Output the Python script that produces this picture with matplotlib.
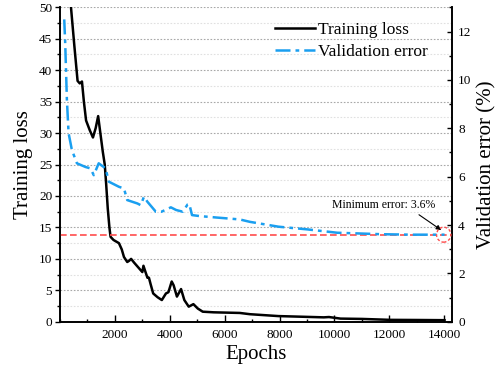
import matplotlib.pyplot as plt
from matplotlib.patches import Ellipse
from matplotlib.ticker import MultipleLocator

plt.rcParams['font.family'] = ['Liberation Serif', 'DejaVu Serif']

# training loss (left axis)
loss_epochs = [400, 520, 640, 720, 800, 870, 950, 1080, 1200, 1300, 1390, 1470, 1560, 1630,
               1680, 1740, 1800, 1842, 1950, 2147, 2250, 2330, 2450, 2520, 2590, 2700, 2880,
               3000, 3040, 3100, 3185, 3240, 3300, 3395, 3555, 3710, 3860, 3950, 4070, 4140,
               4260, 4410, 4530, 4690, 4860, 5020, 5200, 5600, 6550, 6920, 7960, 8800, 9610,
               9800, 10220, 11000, 12050, 13000, 14010]
loss_values = [50.0, 44.0, 38.3, 37.9, 38.2, 35.0, 32.0, 30.5, 29.3, 30.8, 32.7, 30.0, 27.0, 25.0,
               22.0, 18.0, 15.0, 13.5, 13.0, 12.5, 11.5, 10.3, 9.5, 9.7, 10.0, 9.4, 8.5,
               7.9, 8.9, 8.1, 7.0, 7.0, 6.0, 4.5, 3.9, 3.45, 4.5, 4.7, 6.4, 5.8,
               4.0, 5.2, 3.45, 2.4, 2.8, 2.1, 1.6, 1.5, 1.4, 1.2, 0.9, 0.8, 0.7,
               0.75, 0.5, 0.45, 0.3, 0.28, 0.25]

# validation error (right axis)
val_epochs = [154, 190, 250, 312, 433, 617, 925, 1110, 1230, 1410, 1660, 1780, 2147, 2330,
              2450, 2820, 2940, 3060, 3185, 3490, 3700, 4040, 4230, 4470, 4650, 4710, 4810,
              5080, 5690, 6550, 6920, 7960, 9000, 10100, 11690, 12800, 14010]
val_values = [12.5, 11.5, 9.2, 7.8, 7.1, 6.55, 6.4, 6.34, 6.06, 6.55, 6.34, 5.79, 5.58, 5.51,
              5.03, 4.89, 4.82, 5.17, 4.96, 4.55, 4.55, 4.73, 4.62, 4.55, 4.85, 4.87, 4.41,
              4.37, 4.31, 4.23, 4.13, 3.93, 3.82, 3.68, 3.62, 3.6, 3.6]

min_error = 3.6
min_epoch = 13980

fig, ax = plt.subplots(figsize=(4.98, 3.75), dpi=100)
fig.subplots_adjust(left=0.1205, right=0.9086, bottom=0.142, top=0.9805)
ax2 = ax.twinx()

ax.set_axisbelow(True)
ax.yaxis.set_major_locator(MultipleLocator(5))
ax.yaxis.set_minor_locator(MultipleLocator(2.5))
ax.grid(True, which='major', axis='y', color='#a8a8a8', linestyle=(0, (1.5, 1.5)), linewidth=0.8)
ax.grid(True, which='minor', axis='y', color='#e0e0e0', linestyle=(0, (1.5, 1.5)), linewidth=0.8)

l1, = ax.plot(loss_epochs, loss_values, color='black', linewidth=1.8, label='Training loss')
l2, = ax2.plot(val_epochs, val_values, color='#1a9ff0', linewidth=1.8,
               linestyle=(0, (6, 2, 1.5, 2)), label='Validation error')
ax2.axhline(min_error, color='#ff4d4d', linewidth=1.2, linestyle=(0, (4, 2)), zorder=1)
ax2.add_patch(Ellipse((min_epoch, min_error), 520, 0.62, fill=False, edgecolor='#ff4d4d',
                      linestyle=(0, (2, 1.5)), linewidth=1.0, zorder=5))
ax2.annotate('Minimum error: 3.6%', xy=(13890, 3.79), xytext=(11800, 4.82),
             ha='center', va='center', fontsize=8.5,
             arrowprops=dict(arrowstyle='-|>', color='black', lw=0.8, mutation_scale=7,
                             relpos=(0.79, 0), shrinkA=1, shrinkB=0))

ax.set_xlim(0, 14300)
ax.set_ylim(0, 50)
ax2.set_ylim(0, 13)
ax.xaxis.set_minor_locator(MultipleLocator(1000))
ax.set_xticks([2000, 4000, 6000, 8000, 10000, 12000, 14000])
ax2.yaxis.set_major_locator(MultipleLocator(2))
ax2.yaxis.set_minor_locator(MultipleLocator(1))

for a in (ax, ax2):
    a.tick_params(which='both', labelsize=9.5, width=1)
    a.spines['top'].set_visible(False)
    for s in a.spines.values():
        s.set_linewidth(1.2)

# left ticks point out, bottom and right ticks point in
ax.tick_params(axis='y', which='major', direction='out', length=3.6, pad=2)
ax.tick_params(axis='y', which='minor', direction='out', length=2.5)
ax.tick_params(axis='x', which='major', direction='in', length=5, pad=5)
ax.tick_params(axis='x', which='minor', direction='in', length=2.5)
ax2.tick_params(axis='y', which='major', direction='in', length=3.5, pad=4)
ax2.tick_params(axis='y', which='minor', direction='in', length=2.5)

ax.set_xlabel('Epochs', fontsize=15, labelpad=3)
ax.set_ylabel('Training loss', fontsize=15, labelpad=4)
ax2.set_ylabel('Validation error (%)', fontsize=15, labelpad=4)

ax2.legend([l1, l2], ['Training loss', 'Validation error'], loc='upper right',
           bbox_to_anchor=(0.955, 0.975), frameon=False, fontsize=12.5,
           handlelength=2.3, handletextpad=0.2, labelspacing=0.3, borderaxespad=0)

plt.savefig('out.png')
